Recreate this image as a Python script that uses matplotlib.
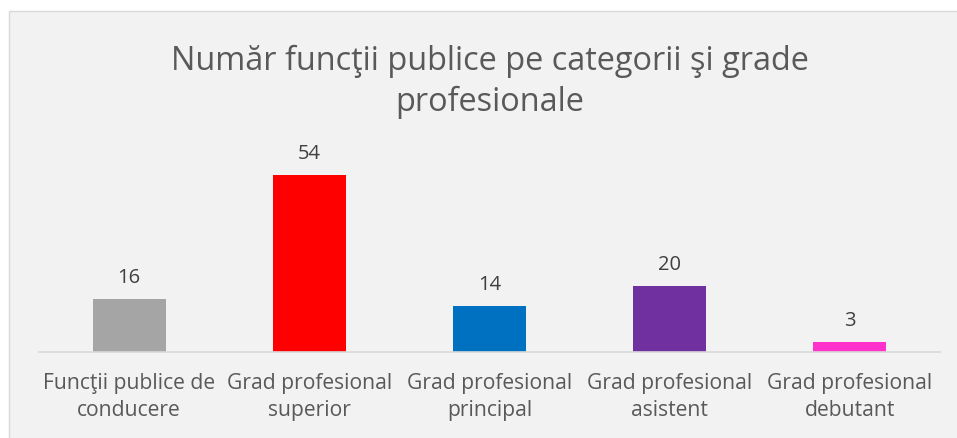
import matplotlib.pyplot as plt
from matplotlib.patches import Rectangle

categories = ["Funcţii publice de\nconducere", "Grad profesional\nsuperior",
              "Grad profesional\nprincipal", "Grad profesional\nasistent",
              "Grad profesional\ndebutant"]
values = [16, 54, 14, 20, 3]
colors = ["#a5a5a5", "#ff0000", "#0070c0", "#7030a0", "#ff33cc"]

plt.rcParams['font.family'] = ['Open Sans', 'DejaVu Sans']

fig = plt.figure(figsize=(9.57, 4.38), dpi=100)
fig.patch.set_facecolor("white")
# chart area background with thin border
bg = Rectangle((9/957, -0.01), 1.0, 1 - 11/438 + 0.01, transform=fig.transFigure,
               facecolor="#f2f2f2", edgecolor="#d9d9d9", linewidth=1, zorder=-5)
fig.add_artist(bg)

ax = fig.add_axes([39/957, 1 - 352/438, 901/957, 197/438])
ax.set_facecolor("none")
x = range(len(values))
bars = ax.bar(x, values, width=0.405, color=colors, zorder=2)
ax.set_xlim(-0.5, len(values) - 0.5)
ax.set_ylim(0, 60)

for b, v in zip(bars, values):
    ax.annotate(str(v), (b.get_x() + b.get_width() / 2, v), xytext=(0, 8),
                textcoords="offset points", ha="center", va="bottom",
                fontsize=14.5, color="#404040")

ax.set_xticks(list(x))
ax.set_xticklabels(categories, fontsize=15.2, color="#595959", linespacing=1.4)
ax.tick_params(axis="x", length=0, pad=15)
ax.set_yticks([])
for s in ["top", "right", "left"]:
    ax.spines[s].set_visible(False)
ax.spines["bottom"].set_color("#d9d9d9")
ax.spines["bottom"].set_linewidth(1.2)

fig.text(490/957, 1 - 82/438, "Număr funcţii publice pe categorii şi grade\nprofesionale",
         ha="center", va="center", fontsize=23.4, color="#595959", linespacing=1.3)

fig.savefig("out.png", dpi=100)
